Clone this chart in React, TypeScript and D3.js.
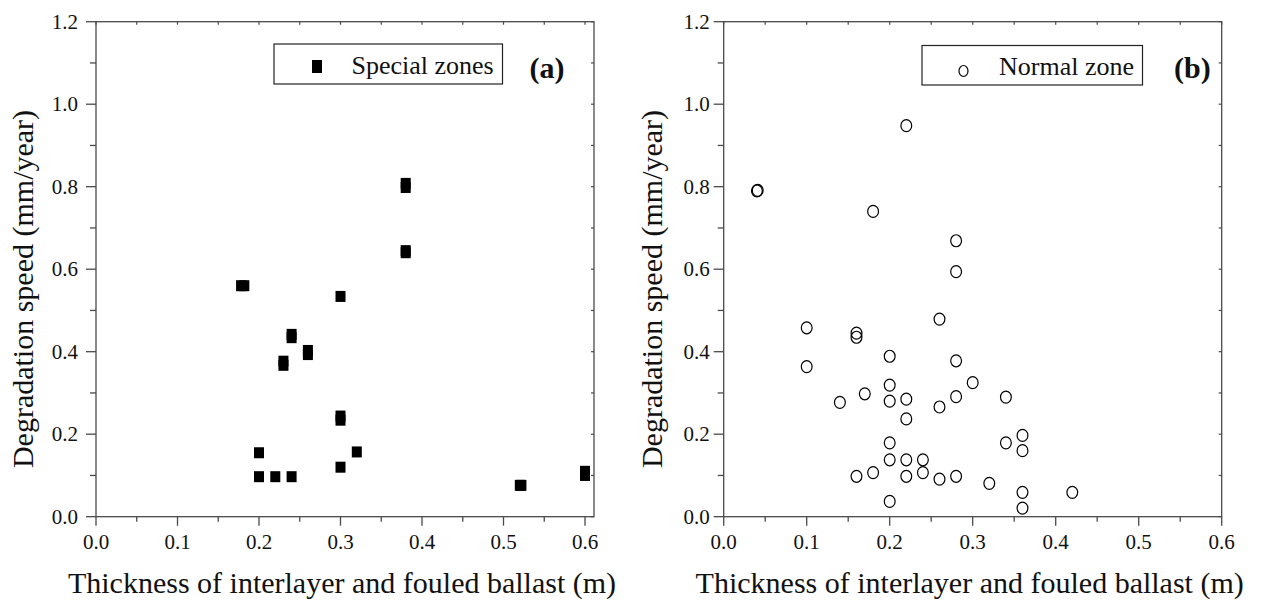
import React from "react";
import * as d3 from "d3";

const specialX = [0.178, 0.182, 0.2, 0.2, 0.22, 0.24, 0.23, 0.23, 0.24, 0.24, 0.26, 0.26, 0.3, 0.3, 0.3, 0.32, 0.3, 0.52, 0.522, 0.6, 0.6, 0.38, 0.38, 0.38, 0.38];
const specialY = [0.56, 0.56, 0.155, 0.097, 0.097, 0.097, 0.367, 0.377, 0.434, 0.442, 0.393, 0.403, 0.534, 0.234, 0.244, 0.157, 0.12, 0.076, 0.076, 0.1, 0.11, 0.798, 0.808, 0.64, 0.645];

const normalX = [0.04, 0.041, 0.18, 0.22, 0.28, 0.28, 0.1, 0.1, 0.16, 0.16, 0.26, 0.2, 0.28, 0.14, 0.17, 0.2, 0.2, 0.22, 0.22, 0.26, 0.28, 0.2, 0.2, 0.22, 0.24, 0.16, 0.18, 0.22, 0.24, 0.26, 0.28, 0.2, 0.3, 0.34, 0.34, 0.36, 0.36, 0.32, 0.36, 0.36, 0.42];
const normalY = [0.79, 0.791, 0.74, 0.948, 0.669, 0.594, 0.458, 0.364, 0.445, 0.435, 0.479, 0.389, 0.378, 0.277, 0.298, 0.319, 0.28, 0.285, 0.237, 0.266, 0.291, 0.179, 0.138, 0.138, 0.138, 0.098, 0.107, 0.098, 0.107, 0.091, 0.098, 0.037, 0.325, 0.29, 0.179, 0.197, 0.16, 0.081, 0.059, 0.021, 0.059];

const xMajorTicks = [0, 0.1, 0.2, 0.3, 0.4, 0.5, 0.6];
const yMajorTicks = [0, 0.2, 0.4, 0.6, 0.8, 1.0, 1.2];
const xLabel = "Thickness of interlayer and fouled ballast (m)";
const yLabel = "Degradation speed (mm/year)";
const legendA = "Special zones";
const legendB = "Normal zone";
const panelTagA = "(a)";
const panelTagB = "(b)";

const FONT = "'Liberation Serif', 'Times New Roman', serif";
const AXIS = "#4a4a4a";

type PanelProps = {
  x0: number;
  x06: number;
  xEnd: number;
  yLabelX: number;
  tickLabelGap: number;
  xs: number[];
  ys: number[];
  kind: "square" | "circle";
  legend: string;
  tag: string;
  legendBox: [number, number, number, number];
  legendMarker: [number, number];
  legendTextX: number;
  legendBaseline: number;
  tagX: number;
};

function Panel(p: PanelProps) {
  const x = d3.scaleLinear().domain([0, 0.6]).range([p.x0, p.x06]);
  const y = d3.scaleLinear().domain([0, 1.2]).range([516.7, 21.7]);
  const xMax = x.invert(p.xEnd);
  const yBottom = y(0);
  const yTop = y(1.2);
  const fmt = d3.format(".1f");
  const xMinor = d3.range(0.05, 0.6, 0.1);
  const yMinor = d3.range(0.1, 1.2, 0.2);
  const topTicks = d3.range(0, xMax + 1e-9, 0.05);
  const rightTicks = d3.range(0, 1.2001, 0.1);
  const pts = d3.zip(p.xs, p.ys);

  return (
    <g>
      <rect x={p.x0} y={yTop} width={p.xEnd - p.x0} height={yBottom - yTop} fill="none" stroke={AXIS} strokeWidth={1.3} />
      {xMajorTicks.map((t) => (
        <g key={"xb" + t}>
          <line x1={x(t)} x2={x(t)} y1={yBottom} y2={yBottom + 9} stroke={AXIS} strokeWidth={1.3} />
          <text x={x(t)} y={549} textAnchor="middle" fontFamily={FONT} fontSize={21} fill="#111">{fmt(t)}</text>
        </g>
      ))}
      {xMinor.map((t) => (
        <line key={"xm" + t} x1={x(t)} x2={x(t)} y1={yBottom} y2={yBottom + 5} stroke={AXIS} strokeWidth={1.3} />
      ))}
      {yMajorTicks.map((t) => (
        <g key={"yl" + t}>
          <line x1={p.x0 - 10} x2={p.x0} y1={y(t)} y2={y(t)} stroke={AXIS} strokeWidth={1.3} />
          <text x={p.x0 - p.tickLabelGap} y={y(t) + 7} textAnchor="end" fontFamily={FONT} fontSize={21} fill="#111">{fmt(t)}</text>
        </g>
      ))}
      {yMinor.map((t) => (
        <line key={"ym" + t} x1={p.x0 - 6} x2={p.x0} y1={y(t)} y2={y(t)} stroke={AXIS} strokeWidth={1.3} />
      ))}
      {topTicks.map((t) => (
        <line key={"xt" + t} x1={x(t)} x2={x(t)} y1={yTop} y2={yTop + 3} stroke={AXIS} strokeWidth={1.2} />
      ))}
      {rightTicks.map((t) => (
        <line key={"yr" + t} x1={p.xEnd - 3} x2={p.xEnd} y1={y(t)} y2={y(t)} stroke={AXIS} strokeWidth={1.2} />
      ))}
      <text x={(p.x0 + p.xEnd) / 2 - 3} y={593} textAnchor="middle" fontFamily={FONT} fontSize={30} fill="#111">{xLabel}</text>
      <text transform={`translate(${p.yLabelX},${289}) rotate(-90)`} textAnchor="middle" fontFamily={FONT} fontSize={30} fill="#111">{yLabel}</text>
      {pts.map(([vx, vy], i) =>
        p.kind === "square" ? (
          <rect key={i} x={x(vx) - 5} y={y(vy) - 5.5} width={10} height={11} fill="#000" />
        ) : (
          <ellipse key={i} cx={x(vx)} cy={y(vy)} rx={5.4} ry={6} fill="none" stroke="#000" strokeWidth={1.2} />
        )
      )}
      <rect x={p.legendBox[0]} y={p.legendBox[1]} width={p.legendBox[2] - p.legendBox[0]} height={p.legendBox[3] - p.legendBox[1]} fill="#fff" stroke="#222" strokeWidth={1.2} />
      {p.kind === "square" ? (
        <rect x={p.legendMarker[0] - 5} y={p.legendMarker[1] - 6.5} width={10} height={13} fill="#000" />
      ) : (
        <ellipse cx={p.legendMarker[0]} cy={p.legendMarker[1]} rx={4.5} ry={5.5} fill="none" stroke="#000" strokeWidth={1.2} />
      )}
      <text x={p.legendTextX} y={p.legendBaseline} fontFamily={FONT} fontSize={26} fill="#111">{p.legend}</text>
      <text x={p.tagX} y={78} fontFamily={FONT} fontSize={30} fontWeight="bold" fill="#111">{p.tag}</text>
    </g>
  );
}

export default function App() {
  return (
    <svg width={1261} height={603} style={{ position: "absolute", left: 0, top: 0, background: "#fff" }}>
      <rect width={1261} height={603} fill="#fff" />
      <Panel
        x0={96}
        x06={585}
        xEnd={594}
        yLabelX={33}
        tickLabelGap={18}
        xs={specialX}
        ys={specialY}
        kind="square"
        legend={legendA}
        tag={panelTagA}
        legendBox={[274, 44, 502.5, 84]}
        legendMarker={[317, 66.5]}
        legendTextX={351.5}
        legendBaseline={73.5}
        tagX={529.5}
      />
      <Panel
        x0={723.7}
        x06={1221.7}
        xEnd={1221.7}
        yLabelX={661.5}
        tickLabelGap={14}
        xs={normalX}
        ys={normalY}
        kind="circle"
        legend={legendB}
        tag={panelTagB}
        legendBox={[922, 45.5, 1142.5, 85]}
        legendMarker={[963.5, 71]}
        legendTextX={999}
        legendBaseline={75}
        tagX={1174}
      />
    </svg>
  );
}
